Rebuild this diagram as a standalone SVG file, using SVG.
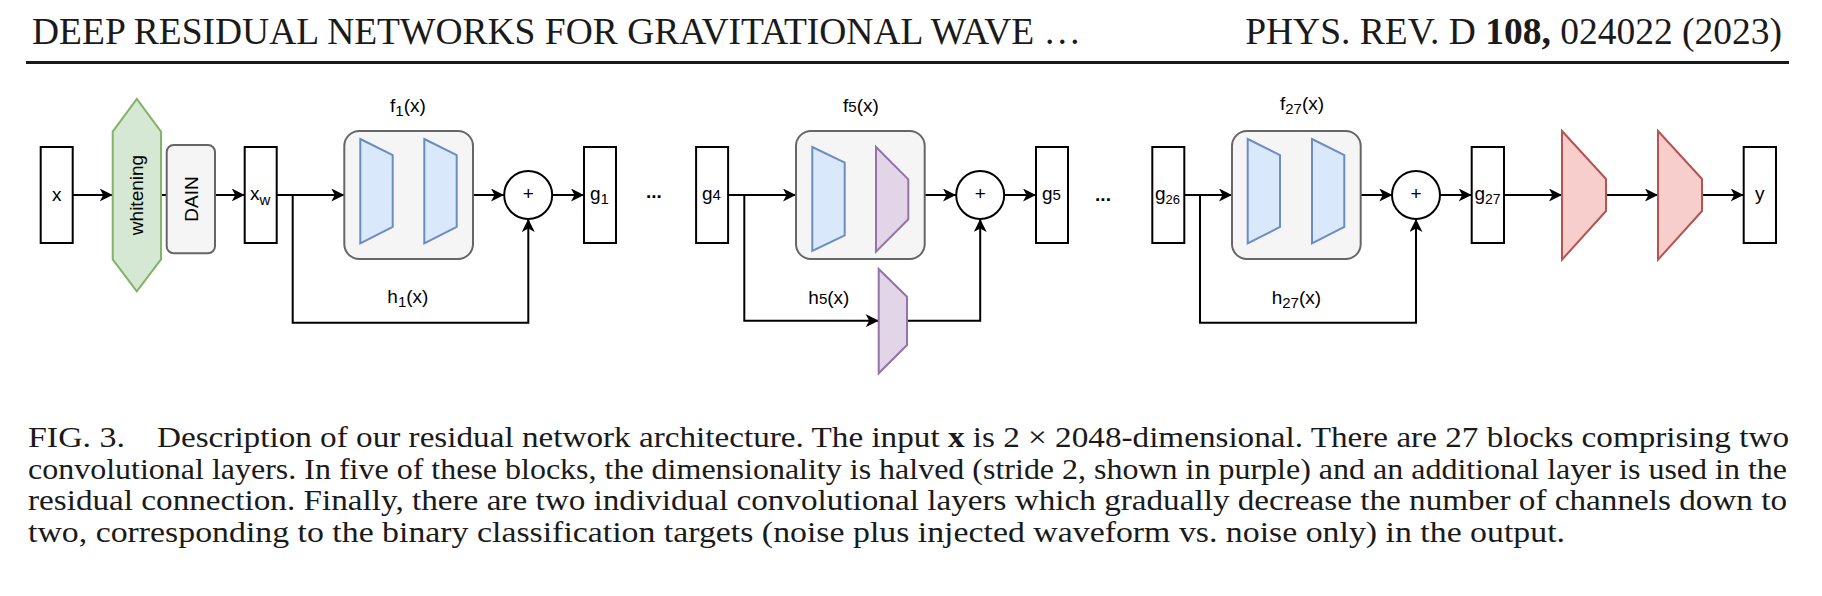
<svg xmlns="http://www.w3.org/2000/svg" width="1822" height="596" viewBox="0 0 1822 596">
<style>
.hdr{font-family:"Liberation Serif","Times New Roman",serif;font-size:37.5px;fill:#1a1a1a}
.cap{font-family:"Liberation Serif","Times New Roman",serif;font-size:30px;fill:#1a1a1a}
.t{font-family:"Liberation Sans",Arial,Helvetica,sans-serif;font-size:19px;fill:#000}
.box{fill:#fff;stroke:#000;stroke-width:2}
.blk{fill:#f5f5f5;stroke:#666;stroke-width:2}
.blue{fill:#dae8fc;stroke:#6c8ebf;stroke-width:2}
.purp{fill:#e1d5e7;stroke:#9673a6;stroke-width:2}
.red{fill:#f8cecc;stroke:#b85450;stroke-width:2}
.grn{fill:#d5e8d4;stroke:#82b366;stroke-width:2}
.c{fill:none;stroke:#000;stroke-width:2}
.a{fill:none;stroke:#000;stroke-width:2;marker-end:url(#arr)}
</style>
<defs>
<marker id="arr" markerUnits="userSpaceOnUse" viewBox="0 0 13 13" refX="13" refY="6.5" markerWidth="13" markerHeight="13" orient="auto">
<path d="M0,0 L13,6.5 L0,13 L3.5,6.5 Z" fill="#000"/>
</marker>
</defs>
<rect width="1822" height="596" fill="#fff"/>

<g id="header">
<text class="hdr" x="32" y="44">DEEP RESIDUAL NETWORKS FOR GRAVITATIONAL WAVE …</text>
<text class="hdr" x="1782" y="44" text-anchor="end">PHYS. REV. D <tspan font-weight="bold">108,</tspan> 024022 (2023)</text>
<rect x="26" y="61" width="1763" height="3" fill="#1a1a1a"/>
</g>

<g id="connectors">
<line class="a" x1="72.7" y1="195" x2="112.7" y2="195"/>
<line class="c" x1="161" y1="195" x2="166.7" y2="195"/>
<line class="a" x1="215" y1="195" x2="244.7" y2="195"/>
<line class="a" x1="276.7" y1="195" x2="344.3" y2="195"/>
<polyline class="a" points="292.7,195 292.7,322.7 528.3,322.7 528.3,219"/>
<line class="a" x1="392.7" y1="191" x2="424.3" y2="191"/>
<line class="a" x1="473" y1="195" x2="504" y2="195"/>
<line class="a" x1="552.3" y1="195" x2="584" y2="195"/>

<line class="a" x1="728.5" y1="195" x2="796" y2="195"/>
<polyline class="a" points="744.3,195 744.3,320.7 878.7,320.7"/>
<polyline class="a" points="907,320.7 980.2,320.7 980.2,219"/>
<line class="a" x1="844.7" y1="198.7" x2="876" y2="198.7"/>
<line class="a" x1="924.7" y1="195" x2="956" y2="195"/>
<line class="a" x1="1004.3" y1="195" x2="1036" y2="195"/>

<line class="a" x1="1184.3" y1="195" x2="1232" y2="195"/>
<polyline class="a" points="1200,195 1200,322.7 1416,322.7 1416,219"/>
<line class="a" x1="1280" y1="191" x2="1312" y2="191"/>
<line class="a" x1="1360.7" y1="195" x2="1392.3" y2="195"/>
<line class="a" x1="1440" y1="195" x2="1471.7" y2="195"/>
<line class="a" x1="1504" y1="195" x2="1562" y2="195"/>
<line class="a" x1="1606" y1="195" x2="1658" y2="195"/>
<line class="a" x1="1702" y1="195" x2="1743.7" y2="195"/>
</g>

<g id="x">
<rect class="box" x="40.7" y="147" width="32" height="96"/>
<text class="t" x="56.7" y="201" text-anchor="middle">x</text>
</g>
<g id="whitening">
<polygon class="grn" points="112.7,131.7 136.8,99 161,131.7 161,259.3 136.8,291.3 112.7,259.3"/>
<text class="t" transform="translate(143 195) rotate(-90)" text-anchor="middle">whitening</text>
</g>
<g id="dain">
<rect class="blk" x="166.7" y="145" width="48.3" height="108.3" rx="7"/>
<text class="t" transform="translate(198.3 199) rotate(-90)" text-anchor="middle" fill="#333">DAIN</text>
</g>
<g id="xw">
<rect class="box" x="244.7" y="147" width="32" height="96"/>
<text class="t" x="250" y="200">x<tspan font-size="15" dy="5">w</tspan></text>
</g>

<g id="f1">
<rect class="blk" x="344.3" y="131" width="128.7" height="128" rx="15"/>
<polygon class="blue" points="360.3,139 392.7,155 392.7,227 360.3,243.3"/>
<polygon class="blue" points="424.3,139 456.7,155 456.7,227 424.3,243.3"/>
<text class="t" x="390" y="111.5">f<tspan font-size="15" dy="4">1</tspan><tspan dy="-4">(x)</tspan></text>
</g>
<g id="h1">
<text class="t" x="387.3" y="303">h<tspan font-size="15" dy="4">1</tspan><tspan dy="-4">(x)</tspan></text>
</g>
<g id="sum1">
<circle cx="528.2" cy="195" r="24" fill="#fff" stroke="#000" stroke-width="2"/>
<text class="t" x="528.2" y="200" font-size="16" text-anchor="middle">+</text>
</g>
<g id="g1">
<rect class="box" x="584" y="147" width="32" height="96"/>
<text class="t" x="590" y="200">g<tspan font-size="15" dy="4">1</tspan></text>
</g>

<g id="dots1"><text class="t" x="653.8" y="198" text-anchor="middle" font-weight="bold" font-size="16">...</text></g>

<g id="g4">
<rect class="box" x="696.1" y="147" width="32" height="96"/>
<text class="t" x="702" y="200">g<tspan font-size="15">4</tspan></text>
</g>
<g id="f5">
<rect class="blk" x="796" y="131" width="128.7" height="128" rx="15"/>
<polygon class="blue" points="812.3,147 844.7,162.7 844.7,235.3 812.3,251"/>
<polygon class="purp" points="876,147 908.3,179.3 908.3,219.3 876,251.7"/>
<text class="t" x="843" y="111.5">f<tspan font-size="15">5</tspan>(x)</text>
</g>
<g id="h5">
<polygon class="purp" points="878.7,269 907,296.7 907,345 878.7,373.3"/>
<text class="t" x="808.3" y="304">h<tspan font-size="15">5</tspan>(x)</text>
</g>
<g id="sum5">
<circle cx="980.2" cy="195" r="24" fill="#fff" stroke="#000" stroke-width="2"/>
<text class="t" x="980.2" y="200" font-size="16" text-anchor="middle">+</text>
</g>
<g id="g5">
<rect class="box" x="1036" y="147" width="32" height="96"/>
<text class="t" x="1042" y="200">g<tspan font-size="15">5</tspan></text>
</g>

<g id="dots2"><text class="t" x="1103" y="201" text-anchor="middle" font-weight="bold" font-size="16">...</text></g>

<g id="g26">
<rect class="box" x="1152.3" y="147" width="32" height="96"/>
<text class="t" x="1155" y="200">g<tspan font-size="13" dy="4">26</tspan></text>
</g>
<g id="f27">
<rect class="blk" x="1232" y="131" width="128.7" height="128" rx="15"/>
<polygon class="blue" points="1247.7,139 1280,155 1280,227 1247.7,243.3"/>
<polygon class="blue" points="1312,139 1344.3,155 1344.3,227 1312,243.3"/>
<text class="t" x="1280" y="110">f<tspan font-size="15" dy="4">27</tspan><tspan dy="-4">(x)</tspan></text>
</g>
<g id="h27">
<text class="t" x="1271.7" y="304">h<tspan font-size="15" dy="4">27</tspan><tspan dy="-4">(x)</tspan></text>
</g>
<g id="sum27">
<circle cx="1416" cy="195" r="24" fill="#fff" stroke="#000" stroke-width="2"/>
<text class="t" x="1416" y="200" font-size="16" text-anchor="middle">+</text>
</g>
<g id="g27">
<rect class="box" x="1471.7" y="147" width="32.3" height="96"/>
<text class="t" x="1474.5" y="200">g<tspan font-size="14" dy="4">27</tspan></text>
</g>
<g id="out1"><polygon class="red" points="1562,131 1606,179 1606,211 1562,259.7"/></g>
<g id="out2"><polygon class="red" points="1658,131 1702,179 1702,211 1658,259.7"/></g>
<g id="y">
<rect class="box" x="1743.7" y="147" width="32.3" height="96"/>
<text class="t" x="1759.8" y="200" text-anchor="middle">y</text>
</g>

<g id="caption">
<text class="cap" x="28" y="447" textLength="97" lengthAdjust="spacingAndGlyphs">FIG. 3.</text>
<text class="cap" x="157" y="447" textLength="1632" lengthAdjust="spacingAndGlyphs">Description of our residual network architecture. The input <tspan font-weight="bold">x</tspan> is 2 × 2048-dimensional. There are 27 blocks comprising two</text>
<text class="cap" x="28" y="478.5" textLength="1759" lengthAdjust="spacingAndGlyphs">convolutional layers. In five of these blocks, the dimensionality is halved (stride 2, shown in purple) and an additional layer is used in the</text>
<text class="cap" x="28" y="510" textLength="1759" lengthAdjust="spacingAndGlyphs">residual connection. Finally, there are two individual convolutional layers which gradually decrease the number of channels down to</text>
<text class="cap" x="28" y="541.5" textLength="1537" lengthAdjust="spacingAndGlyphs">two, corresponding to the binary classification targets (noise plus injected waveform vs. noise only) in the output.</text>
</g>
</svg>
